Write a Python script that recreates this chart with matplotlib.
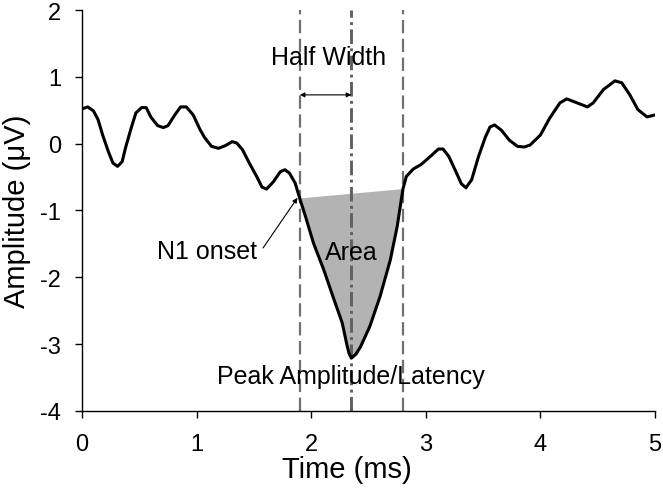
import matplotlib.pyplot as plt
import numpy as np

plt.rcParams['font.family'] = ['Liberation Sans', 'DejaVu Sans']
plt.rcParams['axes.unicode_minus'] = False

# waveform (time in ms, amplitude in uV)
time = [0.00, 0.05, 0.10, 0.14, 0.18, 0.23, 0.27, 0.31, 0.35, 0.38, 0.43, 0.47,
        0.52, 0.56, 0.60, 0.66, 0.71, 0.75, 0.81, 0.86, 0.91, 0.97, 1.03, 1.07,
        1.13, 1.19, 1.25, 1.31, 1.35, 1.40, 1.46, 1.53, 1.57, 1.61, 1.67, 1.73,
        1.77, 1.81, 1.86, 1.90, 1.95, 2.02, 2.11, 2.19, 2.27, 2.31, 2.33, 2.35,
        2.39, 2.43, 2.51, 2.60, 2.69, 2.75, 2.80, 2.83, 2.89, 2.96, 3.04, 3.11,
        3.15, 3.20, 3.26, 3.31, 3.35, 3.40, 3.46, 3.52, 3.56, 3.60, 3.66, 3.73,
        3.80, 3.86, 3.91, 4.00, 4.08, 4.17, 4.23, 4.32, 4.41, 4.46, 4.55, 4.65,
        4.71, 4.78, 4.85, 4.93, 5.00]
amp = [0.52, 0.55, 0.49, 0.36, 0.13, -0.12, -0.29, -0.34, -0.27, -0.06, 0.24, 0.46,
       0.54, 0.54, 0.40, 0.27, 0.24, 0.27, 0.43, 0.55, 0.55, 0.43, 0.21, 0.09,
       -0.04, -0.07, -0.03, 0.03, 0.01, -0.09, -0.29, -0.51, -0.65, -0.68, -0.57, -0.42,
       -0.39, -0.44, -0.59, -0.82, -1.09, -1.49, -1.89, -2.29, -2.68, -3.00, -3.14, -3.21,
       -3.15, -3.04, -2.74, -2.29, -1.74, -1.24, -0.68, -0.49, -0.38, -0.31, -0.19, -0.08,
       -0.08, -0.19, -0.41, -0.60, -0.66, -0.54, -0.19, 0.10, 0.25, 0.28, 0.20, 0.05,
       -0.04, -0.05, -0.02, 0.13, 0.38, 0.61, 0.67, 0.61, 0.55, 0.61, 0.81, 0.94,
       0.91, 0.73, 0.51, 0.40, 0.43]

onset = 1.90
peak = 2.35
offset = 2.80
half_width_level = 0.73

fig = plt.figure(figsize=(6.63, 4.89), dpi=100)
ax = fig.add_axes([0.1237, 0.1575, 0.8643, 0.82])

# shaded area between onset and offset
t = np.array(time)
a = np.array(amp)
sel = (t >= onset) & (t <= offset)
ax.fill(t[sel], a[sel], color='#b3b3b3', lw=0, zorder=1)

ax.axvline(onset, color='#707070', lw=1.6, dashes=(6, 2.5), zorder=2)
ax.axvline(offset, color='#707070', lw=1.6, dashes=(6, 2.5), zorder=2)
ax.axvline(peak, color='#606060', lw=2.1, dashes=(5, 1.5, 1, 1.5), zorder=2)

ax.plot(time, amp, color='black', lw=2.2, zorder=3)

ax.annotate('', xy=(onset, half_width_level), xytext=(peak, half_width_level),
            arrowprops=dict(arrowstyle='<|-|>', lw=0.8, color='black',
                            mutation_scale=7, shrinkA=0, shrinkB=0))
ax.text(2.15, 1.30, 'Half Width', fontsize=18, ha='center', va='center')

ax.annotate('', xy=(1.88, -0.81), xytext=(1.58, -1.56),
            arrowprops=dict(arrowstyle='-|>', lw=0.8, color='black',
                            mutation_scale=7, shrinkA=0, shrinkB=0))
ax.text(1.53, -1.60, 'N1 onset', fontsize=18, ha='right', va='center')

ax.text(2.35, -1.62, 'Area', fontsize=18, ha='center', va='center')
ax.text(2.35, -3.47, 'Peak Amplitude/Latency', fontsize=18, ha='center', va='center')

ax.set_xlim(0, 5)
ax.set_ylim(-4, 2)
ax.set_xticks([0, 1, 2, 3, 4, 5])
ax.set_yticks([-4, -3, -2, -1, 0, 1, 2])
ax.tick_params(labelsize=17, length=5, width=1)
ax.tick_params(axis='x', pad=11)
ax.tick_params(axis='y', pad=10)
ax.set_xlabel('Time (ms)', fontsize=21, labelpad=0, x=0.463)
ax.set_ylabel('Amplitude (\u03bcV)', fontsize=21, labelpad=7)

for s in ['top', 'right']:
    ax.spines[s].set_visible(False)
for s in ['left', 'bottom']:
    ax.spines[s].set_linewidth(1)

fig.savefig('out.png', dpi=100)
